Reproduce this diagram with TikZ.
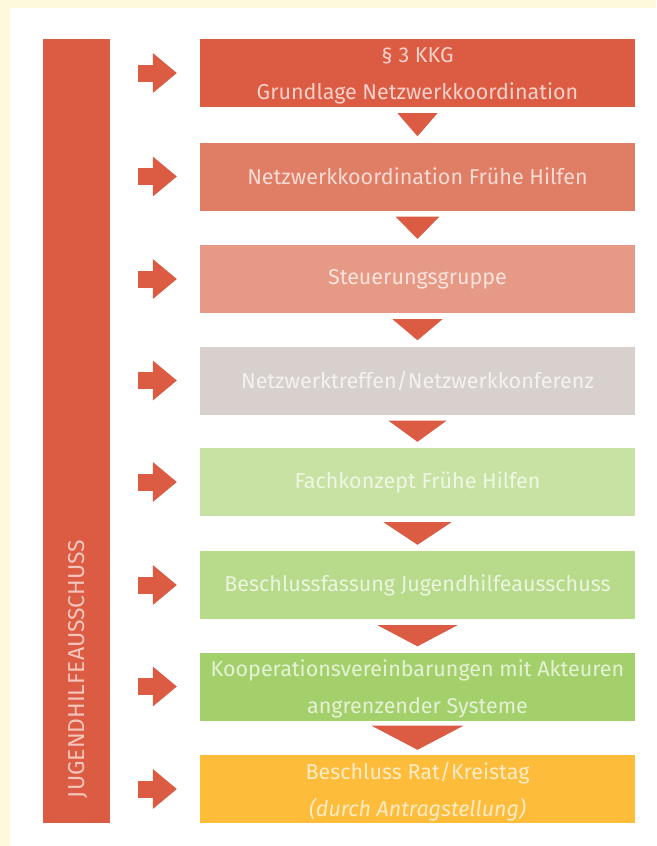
\documentclass[tikz,border=0pt]{standalone}
\usepackage{fontspec}
\setmainfont{Fira Sans}
\usetikzlibrary{arrows.meta}
\usetikzlibrary{calc}
\definecolor{creamBg}{HTML}{FEF8DD}
\definecolor{kkgRed}{HTML}{DC5B43}
\definecolor{nwkRed}{HTML}{E07D65}
\definecolor{stgSalmon}{HTML}{E69A86}
\definecolor{konfGrey}{HTML}{D7D0CD}
\definecolor{fachGreen}{HTML}{C7E2A2}
\definecolor{beschlGreen}{HTML}{B7DA8B}
\definecolor{koopGreen}{HTML}{A4D06C}
\definecolor{ratYellow}{HTML}{FDBC3A}

\begin{document}
\begin{tikzpicture}[x = 1pt, y = -1pt, font = \fontsize{21.5}{37}\selectfont]
\tikzstyle{boxStyle} = [shape = rectangle, minimum width = 435pt, minimum height = 68pt, inner sep = 0pt, align = center, text = white, text opacity = 0.72]
\tikzstyle{twoLineStyle} = [boxStyle, text depth = 0pt]
\tikzstyle{barStyle} = [shape = rectangle, fill = kkgRed, minimum width = 67pt, minimum height = 784pt, inner sep = 0pt]
\tikzstyle{sideArrowStyle} = [draw = kkgRed, line width = 17pt, -{Triangle[length = 24pt, width = 40pt, line width = 0pt]}, shorten <=28pt, shorten >=23pt]
\tikzstyle{downArrowStyle} = [fill = kkgRed]
\useasboundingbox (0,0) rectangle (656,846);
\fill[creamBg] (0,0) rectangle (656,846);
\fill[white] (10,8) rectangle (656,846);
\node[barStyle] (jha) at (76.5,431) {};
\node[rotate = 90, anchor = west, inner sep = 0pt, text = white, text opacity = 0.65, font = \fontsize{23}{23}\selectfont] (jhaLabel) at ($(jha.south)+(1.5,-25)$) {JUGENDHILFEAUSSCHUSS};
\node[twoLineStyle, fill = kkgRed] (b1) at (417.5,73) {§ 3 KKG\\Grundlage Netzwerkkoordination};
\node[boxStyle, fill = nwkRed] (b2) at (417.5,176.5) {Netzwerkkoordination Frühe Hilfen};
\node[boxStyle, fill = stgSalmon] (b3) at (417.5,279) {Steuerungsgruppe};
\node[boxStyle, fill = konfGrey] (b4) at (417.5,380.5) {Netzwerktreffen/Netzwerkkonferenz};
\node[boxStyle, fill = fachGreen] (b5) at (417.5,482) {Fachkonzept Frühe Hilfen};
\node[boxStyle, fill = beschlGreen] (b6) at (417.5,585) {Beschlussfassung Jugendhilfeausschuss};
\node[twoLineStyle, fill = koopGreen] (b7) at (417.5,686.5) {Kooperationsvereinbarungen mit Akteuren\\angrenzender Systeme};
\node[twoLineStyle, fill = ratYellow] (b8) at (417.5,789) {Beschluss Rat/Kreistag\\\textit{(durch Antragstellung)}};
\draw[sideArrowStyle] (jha.east |- b1.west) -- (b1.west);
\draw[sideArrowStyle] (jha.east |- b2.west) -- (b2.west);
\draw[sideArrowStyle] (jha.east |- b3.west) -- (b3.west);
\draw[sideArrowStyle] (jha.east |- b4.west) -- (b4.west);
\draw[sideArrowStyle] (jha.east |- b5.west) -- (b5.west);
\draw[sideArrowStyle] (jha.east |- b6.west) -- (b6.west);
\draw[sideArrowStyle] (jha.east |- b7.west) -- (b7.west);
\draw[sideArrowStyle] (jha.east |- b8.west) -- (b8.west);
\fill[downArrowStyle] ($(b1.south)+(-20,6)$) -- ($(b1.south)+(20,6)$) -- ($(b2.north)+(0,-6)$) -- cycle;
\fill[downArrowStyle] ($(b2.south)+(-22,6)$) -- ($(b2.south)+(22,6)$) -- ($(b3.north)+(0,-6)$) -- cycle;
\fill[downArrowStyle] ($(b3.south)+(-25,6)$) -- ($(b3.south)+(25,6)$) -- ($(b4.north)+(0,-6)$) -- cycle;
\fill[downArrowStyle] ($(b4.south)+(-29,6)$) -- ($(b4.south)+(29,6)$) -- ($(b5.north)+(0,-6)$) -- cycle;
\fill[downArrowStyle] ($(b5.south)+(-34,6)$) -- ($(b5.south)+(34,6)$) -- ($(b6.north)+(0,-6)$) -- cycle;
\fill[downArrowStyle] ($(b6.south)+(-40,6)$) -- ($(b6.south)+(40,6)$) -- ($(b7.north)+(0,-6)$) -- cycle;
\fill[downArrowStyle] ($(b7.south)+(-46,5)$) -- ($(b7.south)+(46,5)$) -- ($(b8.north)+(0,-5)$) -- cycle;
\end{tikzpicture}
\end{document}
